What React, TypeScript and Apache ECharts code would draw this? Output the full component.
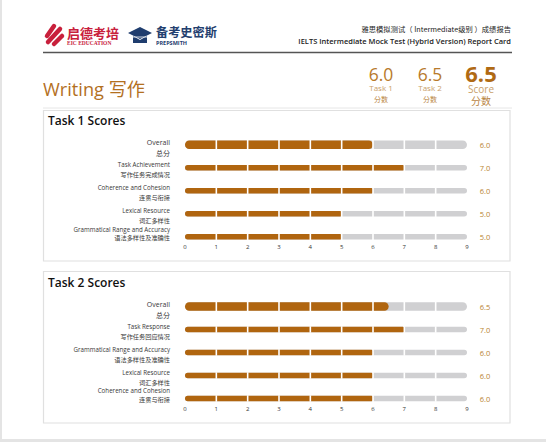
import React, { useEffect, useRef } from "react";
import * as echarts from "echarts";

const FONT = "'Open Sans', 'Noto Sans CJK SC', sans-serif";
const CJK = "'Noto Sans CJK SC', 'Open Sans', sans-serif";

const scoreMax = 9;
const xTicks = [0, 1, 2, 3, 4, 5, 6, 7, 8, 9];

const task1En = ["Overall", "Task Achievement", "Coherence and Cohesion", "Lexical Resource", "Grammatical Range and Accuracy"];
const task1Zh = ["总分", "写作任务完成情况", "连贯与衔接", "词汇多样性", "语法多样性及准确性"];
const task1Scores = [6.0, 7.0, 6.0, 5.0, 5.0];

const task2En = ["Overall", "Task Response", "Grammatical Range and Accuracy", "Lexical Resource", "Coherence and Cohesion"];
const task2Zh = ["总分", "写作任务回应情况", "语法多样性及准确性", "词汇多样性", "连贯与衔接"];
const task2Scores = [6.5, 7.0, 6.0, 6.0, 6.0];

const headerScores = [6.0, 6.5, 6.5];
const headerScoreLabels = ["Task 1", "Task 2", "Score"];

const BROWN = "#b0650f";
const GRAY = "#d0d0d2";
const LABEL = "#383838";

function renderBar(params: any, api: any) {
  const idx = api.value(1);
  const v = api.value(0);
  const p0 = api.coord([0, idx]);
  const pMax = api.coord([scoreMax, idx]);
  const pv = api.coord([v, idx]);
  const h = idx === 0 ? 8.5 : 5.5;
  const y = p0[1] - h / 2;
  const rEnd = idx === 0 ? h / 2 : 1.5;
  const children: any[] = [
    { type: "rect", shape: { x: p0[0], y, width: pMax[0] - p0[0], height: h, r: h / 2 }, style: { fill: GRAY } },
    { type: "rect", shape: { x: p0[0], y, width: pv[0] - p0[0], height: h, r: [h / 2, rEnd, rEnd, h / 2] }, style: { fill: BROWN } },
  ];
  xTicks.slice(1, -1).forEach((t) => {
    const px = api.coord([t, idx])[0];
    children.push({ type: "line", shape: { x1: px, y1: y - 0.5, x2: px, y2: y + h + 0.5 }, style: { stroke: "#fff", lineWidth: 1.6 } });
  });
  children.push({
    type: "text",
    style: { text: Number(v).toFixed(1), x: pMax[0] + 18, y: p0[1], align: "center", verticalAlign: "middle", fill: "#b8842f", fontSize: 7.5, fontFamily: FONT },
  });
  return { type: "group", children };
}

const yLabel = (zh: string[]) => (value: string, index: number) => {
  if (index === 0) return `{p0| }\n{oe|${value}}\n{oz|${zh[index]}}`;
  if (index === 4) return `{e4|${value}}\n{z4|${zh[index]}}\n{p4| }`;
  return `{p1| }\n{e|${value}}\n{z|${zh[index]}}`;
};

const richStyles = {
  p0: { fontSize: 1, lineHeight: 5.6 },
  oe: { fontSize: 7, lineHeight: 10.4, color: LABEL, fontFamily: FONT },
  oz: { fontSize: 7, lineHeight: 10.4, color: LABEL, fontFamily: CJK },
  p1: { fontSize: 1, lineHeight: 3.4 },
  e: { fontSize: 6.2, lineHeight: 9.6, color: LABEL, fontFamily: FONT },
  z: { fontSize: 6.2, lineHeight: 9.6, color: LABEL, fontFamily: CJK },
  e4: { fontSize: 6.2, lineHeight: 8.65, color: LABEL, fontFamily: FONT },
  z4: { fontSize: 6.2, lineHeight: 8.65, color: LABEL, fontFamily: CJK },
  p4: { fontSize: 1, lineHeight: 6.56 },
};

function makeAxes(gridIndex: number, en: string[], zh: string[]) {
  const xAxis = {
    type: "value",
    gridIndex,
    min: 0,
    max: scoreMax,
    interval: 1,
    axisLine: { show: false },
    axisTick: { show: false },
    splitLine: { show: false },
    axisLabel: { fontSize: 6, color: "#333", margin: -4, fontFamily: FONT },
  };
  const yAxis = {
    type: "category",
    gridIndex,
    inverse: true,
    data: en,
    axisLine: { show: false },
    axisTick: { show: false },
    splitLine: { show: false },
    axisLabel: { interval: 0, margin: 15, align: "right", formatter: yLabel(zh), rich: richStyles },
  };
  return { xAxis, yAxis };
}

export default function App() {
  const ref = useRef<HTMLDivElement>(null);
  useEffect(() => {
    if (!ref.current) return;
    const chart = echarts.init(ref.current, undefined, { renderer: "svg" });
    const a1 = makeAxes(0, task1En, task1Zh);
    const a2 = makeAxes(1, task2En, task2Zh);
    const scoreXs = [381, 430, 481];
    const graphic: any[] = [
      // page frame
      { type: "rect", shape: { x: 0, y: 0, width: 2, height: 442 }, style: { fill: "#e4e4e4" }, silent: true },
      { type: "rect", shape: { x: 0, y: 439, width: 546, height: 3 }, style: { fill: "#e4e4e4" }, silent: true },
      // EIC logo icon
      { type: "line", shape: { x1: 47, y1: 36, x2: 54, y2: 26 }, style: { stroke: "#c8203c", lineWidth: 4.5, lineCap: "round" } },
      { type: "line", shape: { x1: 48, y1: 42, x2: 60, y2: 29 }, style: { stroke: "#c8203c", lineWidth: 4.5, lineCap: "round" } },
      { type: "line", shape: { x1: 54, y1: 44, x2: 62, y2: 36 }, style: { stroke: "#c8203c", lineWidth: 4.5, lineCap: "round" } },
      { type: "text", style: { text: "启德考培", x: 67, y: 32, verticalAlign: "middle", fontSize: 13, fontWeight: "bold", fill: "#c8203c", fontFamily: CJK } },
      { type: "text", style: { text: "EIC EDUCATION", x: 67, y: 42.5, verticalAlign: "middle", fontSize: 5.5, fontWeight: "bold", fill: "#c8203c", fontFamily: "'Liberation Serif', serif" } },
      // Prepsmith cap icon
      { type: "polygon", shape: { points: [[128, 33], [140, 27], [152, 33], [140, 39]] }, style: { fill: "#1f3d6e" } },
      { type: "polygon", shape: { points: [[133, 36], [140, 40], [147, 36], [147, 43], [133, 43]] }, style: { fill: "#1f3d6e" } },
      { type: "line", shape: { x1: 133, y1: 37, x2: 147, y2: 37 }, style: { stroke: "#fff", lineWidth: 0.8 } },
      { type: "text", style: { text: "备考史密斯", x: 156, y: 32, verticalAlign: "middle", fontSize: 12.2, fontWeight: "bold", fill: "#24406f", fontFamily: CJK } },
      { type: "text", style: { text: "PREPSMITH", x: 156, y: 42.5, verticalAlign: "middle", fontSize: 5.5, fontWeight: "bold", fill: "#24406f", fontFamily: FONT } },
      // header right
      { type: "text", style: { text: "雅思模拟测试（ Intermediate级别 ）成绩报告", x: 511, y: 29, align: "right", verticalAlign: "middle", fontSize: 7.3, fill: "#222", fontFamily: CJK } },
      { type: "text", style: { text: "IELTS Intermediate Mock Test (Hybrid Version) Report Card", x: 511, y: 41, align: "right", verticalAlign: "middle", fontSize: 7.5, fontWeight: 600, fill: "#222", fontFamily: FONT } },
      { type: "line", shape: { x1: 43, y1: 52.5, x2: 512, y2: 52.5 }, style: { stroke: "#555", lineWidth: 1.5 } },
      // title
      { type: "text", style: { text: "Writing 写作", x: 43, y: 89, verticalAlign: "middle", fontSize: 18.2, fill: "#b3701f", fontFamily: FONT } },
      { type: "line", shape: { x1: 43, y1: 108, x2: 512, y2: 108 }, style: { stroke: "#e6e6e6", lineWidth: 1 } },
      // panels
      { type: "rect", shape: { x: 43.5, y: 110.5, width: 466.5, height: 150.5 }, style: { fill: "#fff", stroke: "#e0e0e0", lineWidth: 1.2 }, z: -10 },
      { type: "rect", shape: { x: 43.5, y: 271.5, width: 466.5, height: 151.5 }, style: { fill: "#fff", stroke: "#e0e0e0", lineWidth: 1.2 }, z: -10 },
      { type: "text", style: { text: "Task 1 Scores", x: 48, y: 120.5, verticalAlign: "middle", fontSize: 12, fontWeight: 600, fill: "#111", fontFamily: FONT } },
      { type: "text", style: { text: "Task 2 Scores", x: 48, y: 282, verticalAlign: "middle", fontSize: 12, fontWeight: 600, fill: "#111", fontFamily: FONT } },
    ];
    headerScores.forEach((s, i) => {
      const big = i === 2;
      graphic.push({ type: "text", style: { text: s.toFixed(1), x: scoreXs[i], y: big ? 72.5 : 74, align: "center", verticalAlign: "middle", fontSize: big ? 22 : 17.5, lineHeight: big ? 18 : 14, fontWeight: big ? "bold" : "normal", fill: big ? "#b06a14" : "#b87a2c", fontFamily: FONT } });
      graphic.push({ type: "text", style: { text: headerScoreLabels[i], x: scoreXs[i], y: big ? 89.2 : 87.6, align: "center", verticalAlign: "middle", fontSize: big ? 10 : 8, lineHeight: big ? 9 : 7, fill: "#c9a06a", fontFamily: FONT } });
      graphic.push({ type: "text", style: { text: "分数", x: scoreXs[i], y: big ? 100.5 : 99, align: "center", verticalAlign: "middle", fontSize: big ? 10 : 7, lineHeight: big ? 10 : 7, fill: "#b98543", fontFamily: CJK } });
    });

    chart.setOption({
      animation: false,
      backgroundColor: "#fff",
      grid: [
        { left: 185, top: 133.2, width: 282, height: 115 },
        { left: 185, top: 295, width: 282, height: 115 },
      ],
      xAxis: [a1.xAxis, a2.xAxis],
      yAxis: [a1.yAxis, a2.yAxis],
      graphic,
      series: [
        { type: "custom", xAxisIndex: 0, yAxisIndex: 0, renderItem: renderBar, data: task1Scores.map((s, i) => [s, i]), encode: { x: 0, y: 1 } },
        { type: "custom", xAxisIndex: 1, yAxisIndex: 1, renderItem: renderBar, data: task2Scores.map((s, i) => [s, i]), encode: { x: 0, y: 1 } },
      ],
    });
    return () => chart.dispose();
  }, []);
  return <div ref={ref} style={{ position: "absolute", left: 0, top: 0, width: 546, height: 442 }} />;
}
